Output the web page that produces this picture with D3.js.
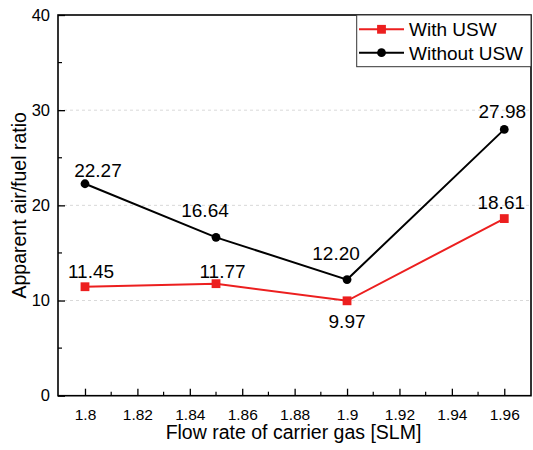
<!DOCTYPE html>
<html>
<head>
<meta charset="utf-8">
<script src="https://cdn.jsdelivr.net/npm/d3@7"></script>
<style>
  html, body { margin: 0; padding: 0; background: #fff; }
  svg { display: block; font-family: "Liberation Sans", Arial, Helvetica, sans-serif; }
</style>
</head>
<body>
<svg id="chart" width="533" height="450"></svg>
<script>
// ---- data ----
const flowRates = [1.8, 1.85, 1.9, 1.96];
const withUSW = [11.45, 11.77, 9.97, 18.61];
const withoutUSW = [22.27, 16.64, 12.20, 27.98];
const withLabels = ["11.45", "11.77", "9.97", "18.61"];
const withoutLabels = ["22.27", "16.64", "12.20", "27.98"];
const xTickValues = [1.8, 1.82, 1.84, 1.86, 1.88, 1.9, 1.92, 1.94, 1.96];
const yTickValues = [0, 10, 20, 30, 40];
const seriesNames = ["With USW", "Without USW"];

// label placement (text centre dx, baseline dy, relative to point)
const withLabelOffsets = [[6, -9], [6.5, -6], [0, 27], [-3, -10]];
const withoutLabelOffsets = [[13, -6.5], [-11, -20], [-11, -20], [-2, -11]];

const RED = "#ec1f1f";
const BLACK = "#000";

const svg = d3.select("#chart");
const m = { left: 58, right: 531, top: 15, bottom: 395.7 };

const x = d3.scaleLinear().domain([1.7897, 1.9702]).range([m.left, m.right]);
const y = d3.scaleLinear().domain([0, 40]).range([m.bottom, m.top]);

// grid lines
svg.append("g").selectAll("line")
  .data([10, 20, 30])
  .join("line")
  .attr("x1", m.left).attr("x2", m.right)
  .attr("y1", d => y(d)).attr("y2", d => y(d))
  .attr("stroke", "#d9d9d9").attr("stroke-width", 1)
  .attr("stroke-dasharray", "3,3");

// x axis (ticks inward)
const xAxis = d3.axisBottom(x).tickValues(xTickValues)
  .tickFormat(d => d3.format("")(+d.toFixed(2))).tickSize(-7).tickPadding(13);
const gx = svg.append("g").attr("transform", `translate(0,${m.bottom})`).call(xAxis);
gx.select(".domain").remove();
gx.selectAll(".tick line").attr("stroke", "#000").attr("stroke-width", 1.3);
gx.selectAll(".tick text").attr("font-size", 15.5).attr("fill", "#000")
  .attr("font-family", "Liberation Sans, Arial, sans-serif");
// minor x ticks
svg.append("g").selectAll("line")
  .data(d3.range(1.81, 1.97, 0.02).map(v => +v.toFixed(2)))
  .join("line")
  .attr("x1", d => x(d)).attr("x2", d => x(d))
  .attr("y1", m.bottom).attr("y2", m.bottom - 4)
  .attr("stroke", "#000").attr("stroke-width", 1.2);

// y axis (ticks inward)
const yAxis = d3.axisLeft(y).tickValues(yTickValues).tickSize(-7).tickPadding(8);
const gy = svg.append("g").attr("transform", `translate(${m.left},0)`).call(yAxis);
gy.select(".domain").remove();
gy.selectAll(".tick line").attr("stroke", "#000").attr("stroke-width", 1.3);
gy.selectAll(".tick text").attr("font-size", 16.5).attr("fill", "#000")
  .attr("font-family", "Liberation Sans, Arial, sans-serif");
// minor y ticks
svg.append("g").selectAll("line")
  .data([5, 15, 25, 35])
  .join("line")
  .attr("x1", m.left).attr("x2", m.left + 4)
  .attr("y1", d => y(d)).attr("y2", d => y(d))
  .attr("stroke", "#000").attr("stroke-width", 1.2);

// frame
svg.append("rect")
  .attr("x", m.left).attr("y", m.top)
  .attr("width", m.right - m.left).attr("height", m.bottom - m.top)
  .attr("fill", "none").attr("stroke", "#000").attr("stroke-width", 1.6);

// axis titles
svg.append("text")
  .attr("x", (m.left + m.right) / 2 - 1).attr("y", 439)
  .attr("text-anchor", "middle").attr("font-size", 19.5)
  .text("Flow rate of carrier gas [SLM]");
svg.append("text")
  .attr("transform", `translate(25.5,${(m.top + m.bottom) / 2}) rotate(-90)`)
  .attr("text-anchor", "middle").attr("font-size", 19.5)
  .text("Apparent air/fuel ratio");

// series
const line = d3.line().x(d => x(d[0])).y(d => y(d[1]));
const dWithout = flowRates.map((f, i) => [f, withoutUSW[i]]);
const dWith = flowRates.map((f, i) => [f, withUSW[i]]);

svg.append("path").datum(dWithout).attr("d", line)
  .attr("fill", "none").attr("stroke", BLACK).attr("stroke-width", 2);
svg.append("path").datum(dWith).attr("d", line)
  .attr("fill", "none").attr("stroke", RED).attr("stroke-width", 2);

svg.append("g").selectAll("circle").data(dWithout).join("circle")
  .attr("cx", d => x(d[0])).attr("cy", d => y(d[1])).attr("r", 4.4)
  .attr("fill", BLACK);
svg.append("g").selectAll("rect").data(dWith).join("rect")
  .attr("x", d => x(d[0]) - 4.4).attr("y", d => y(d[1]) - 4.4)
  .attr("width", 8.8).attr("height", 8.8).attr("fill", RED);

// data labels
svg.append("g").selectAll("text").data(dWithout).join("text")
  .attr("x", (d, i) => x(d[0]) + withoutLabelOffsets[i][0])
  .attr("y", (d, i) => y(d[1]) + withoutLabelOffsets[i][1])
  .attr("text-anchor", "middle").attr("font-size", 19)
  .text((d, i) => withoutLabels[i]);
svg.append("g").selectAll("text").data(dWith).join("text")
  .attr("x", (d, i) => x(d[0]) + withLabelOffsets[i][0])
  .attr("y", (d, i) => y(d[1]) + withLabelOffsets[i][1])
  .attr("text-anchor", "middle").attr("font-size", 19)
  .text((d, i) => withLabels[i]);

// legend
const lg = svg.append("g");
lg.append("rect").attr("x", 356.7).attr("y", m.top)
  .attr("width", m.right - 356.7).attr("height", 51.7)
  .attr("fill", "#fff").attr("stroke", "#333").attr("stroke-width", 1);
const legendItems = [
  { name: seriesNames[0], color: RED, shape: "square", yy: 29.3 },
  { name: seriesNames[1], color: BLACK, shape: "circle", yy: 52.7 }
];
legendItems.forEach(it => {
  lg.append("line").attr("x1", 359).attr("x2", 404)
    .attr("y1", it.yy).attr("y2", it.yy)
    .attr("stroke", it.color).attr("stroke-width", 2);
  if (it.shape === "square") {
    lg.append("rect").attr("x", 381.5 - 4.4).attr("y", it.yy - 4.4)
      .attr("width", 8.8).attr("height", 8.8).attr("fill", it.color);
  } else {
    lg.append("circle").attr("cx", 381.5).attr("cy", it.yy).attr("r", 4.4)
      .attr("fill", it.color);
  }
  lg.append("text").attr("x", 409).attr("y", it.yy + 6.8)
    .attr("font-size", 19).text(it.name);
});
</script>
</body>
</html>
